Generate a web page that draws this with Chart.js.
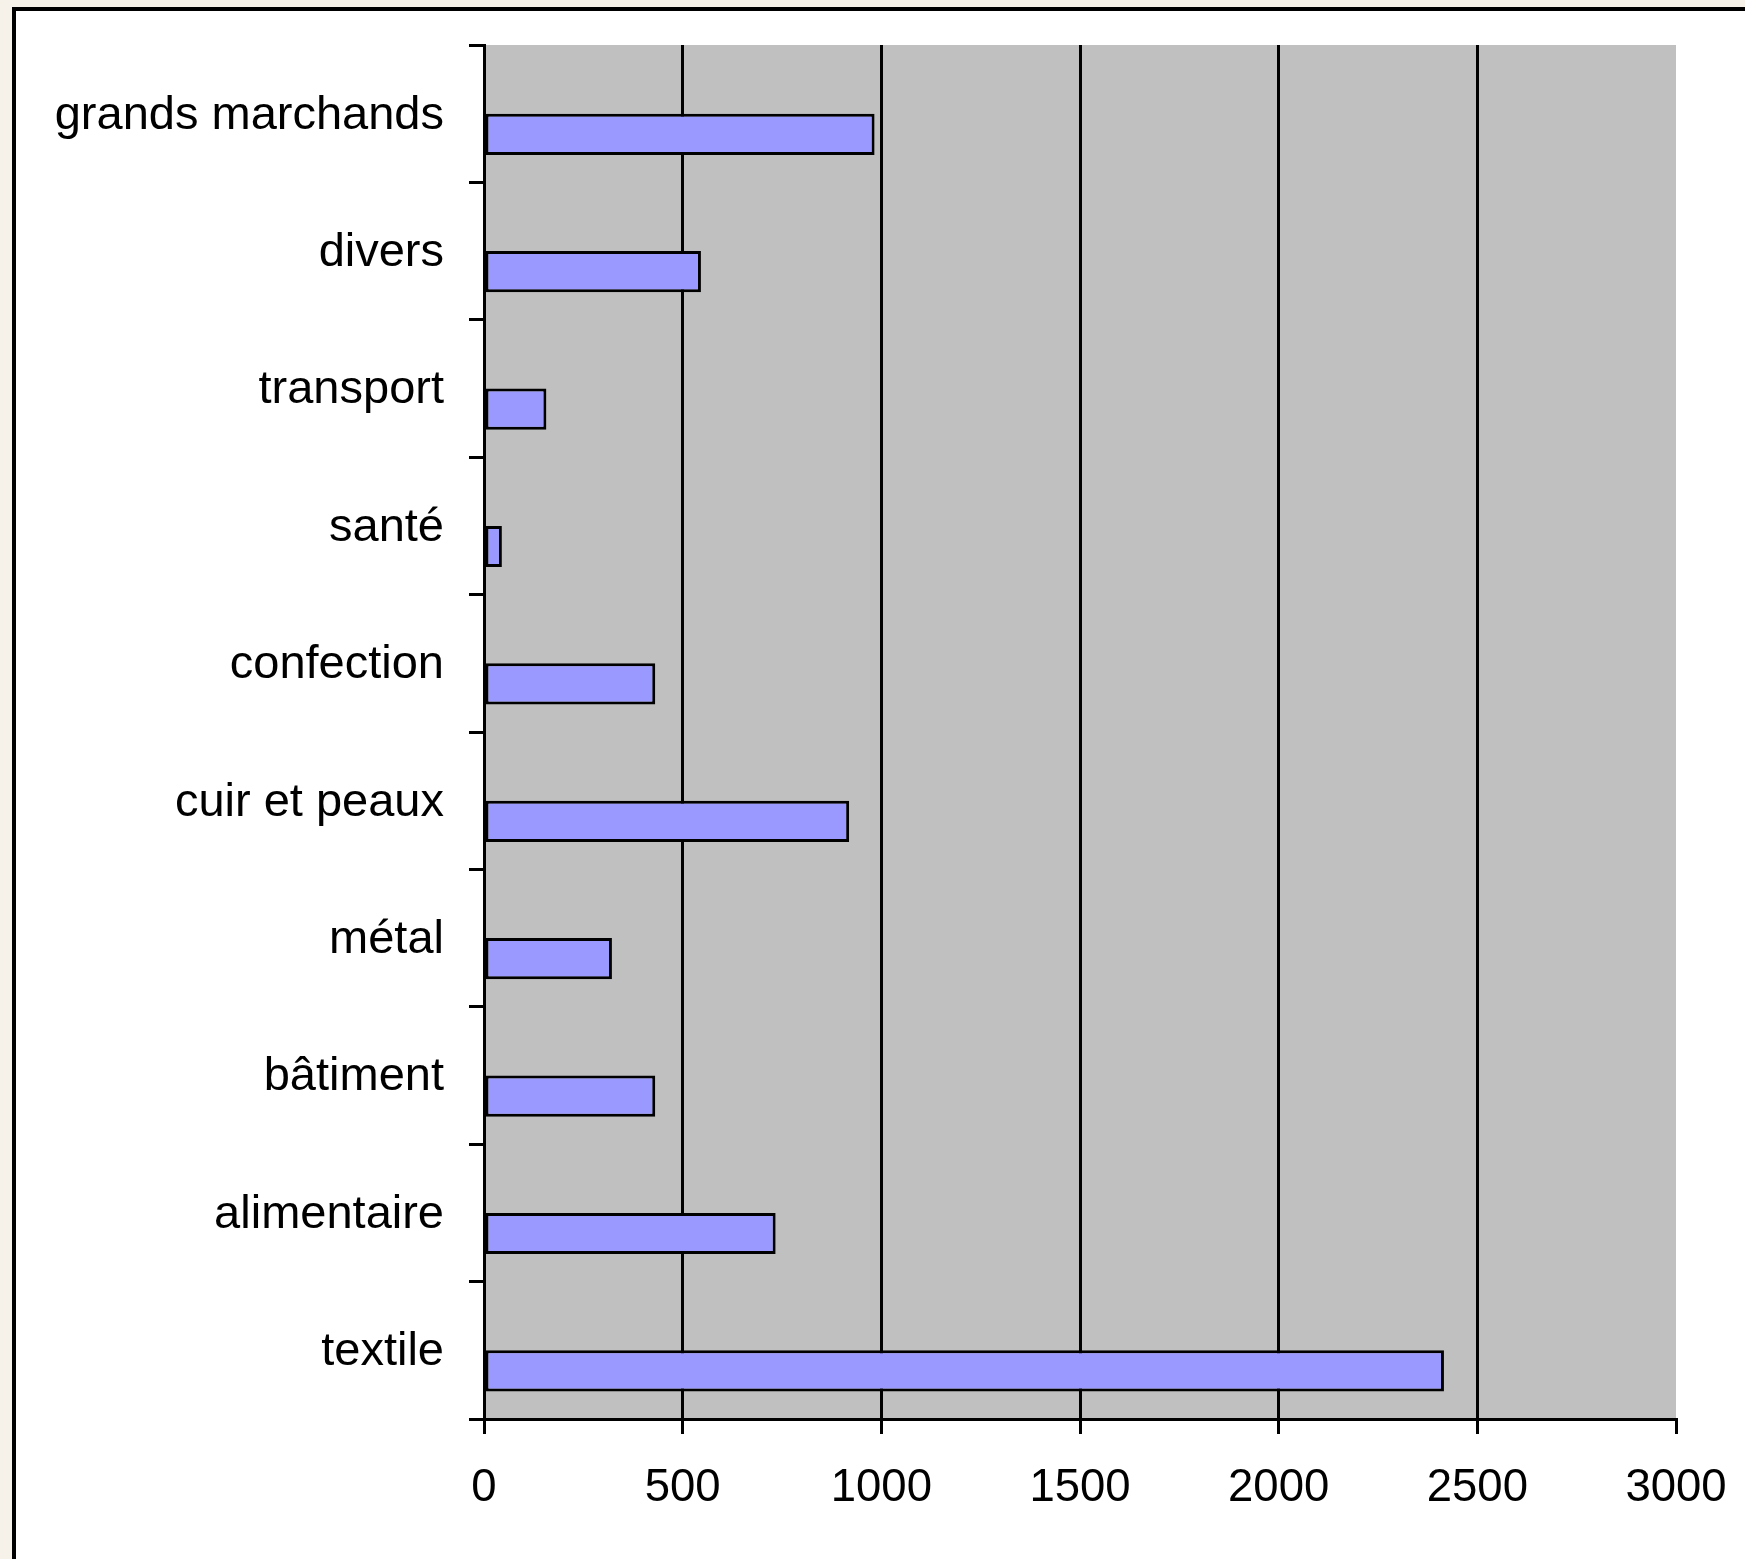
<!DOCTYPE html>
<html>
<head>
<meta charset="utf-8">
<script src="https://cdn.jsdelivr.net/npm/chart.js@4"></script>
<style>
  html, body { margin: 0; padding: 0; background: #f6f2ea; overflow: hidden; }
  #frame {
    position: absolute; left: 12px; top: 7px;
    width: 2000px; height: 2000px;
    border: 4px solid #000; background: #fff;
  }
  #dataChart { position: absolute; left: 0; top: 0; }
</style>
</head>
<body>
<div id="frame"></div>
<canvas id="dataChart" width="1745" height="1559"></canvas>
<script>
// top to bottom, as in the picture
const categories = ['grands marchands', 'divers', 'transport', 'santé', 'confection',
    'cuir et peaux', 'métal', 'bâtiment', 'alimentaire', 'textile'];
const values = [983, 546, 157, 45, 431, 919, 322, 431, 734, 2416];
// the first series of the sheet is empty, it only takes its slot
const emptySeries = [null, null, null, null, null, null, null, null, null, null];
const xTicks = [0, 500, 1000, 1500, 2000, 2500, 3000];

const ctx = document.getElementById('dataChart');

// grey plot area
const plotBackground = {
    id: 'plotBackground',
    beforeDraw(chart) {
        const a = chart.chartArea;
        chart.ctx.save();
        chart.ctx.fillStyle = '#c0c0c0';
        chart.ctx.fillRect(a.left, a.top, a.right - a.left, a.bottom - a.top);
        chart.ctx.restore();
    }
};

var chartData = {
    labels: categories,
    datasets: [{
        label: 'vide',
        data: emptySeries,
        backgroundColor: '#9999ff',
        borderColor: '#000',
        borderWidth: 3
    }, {
        label: 'effectifs',
        data: values,
        backgroundColor: '#9999ff',
        borderColor: '#000',
        borderWidth: 3,
        borderSkipped: false
    }]
};

var chartOptions = {
    indexAxis: 'y',
    responsive: false,
    animation: false,
    categoryPercentage: 0.6,
    barPercentage: 1.0,
    layout: {
        padding: { top: 45, right: 69, left: 0, bottom: 0 }
    },
    scales: {
        x: {
            min: 0,
            max: 3000,
            afterBuildTicks: (scale) => { scale.ticks = xTicks.map(v => ({ value: v })); },
            afterFit: (scale) => { scale.height = 140; },
            border: { color: '#000', width: 3 },
            grid: {
                color: (c) => (c.tick && (c.tick.value === 0 || c.tick.value === 3000)) ? 'rgba(0,0,0,0)' : '#000',
                lineWidth: 3,
                tickColor: '#000',
                tickWidth: 3,
                tickLength: 15
            },
            ticks: {
                color: '#000',
                padding: 0,
                maxRotation: 0,
                callback: (v) => String(v),
                // tall line box pushes the labels down without widening the side padding
                font: { family: 'Liberation Sans, Arial, sans-serif', size: 45.5, lineHeight: 2.39 }
            }
        },
        y: {
            afterFit: (scale) => { scale.width = 484; },
            border: { color: '#000', width: 3 },
            grid: {
                offset: true,
                drawOnChartArea: false,
                tickColor: '#000',
                tickWidth: 3,
                tickLength: 15
            },
            ticks: {
                color: '#000',
                padding: 25,
                labelOffset: 2,
                autoSkip: false,
                font: { family: 'Liberation Sans, Arial, sans-serif', size: 47, lineHeight: 0.6 }
            }
        }
    },
    plugins: {
        legend: { display: false },
        tooltip: { enabled: false }
    }
};

var myChart = new Chart(ctx, {
    type: 'bar',
    data: chartData,
    options: chartOptions,
    plugins: [plotBackground]
});
</script>
</body>
</html>
